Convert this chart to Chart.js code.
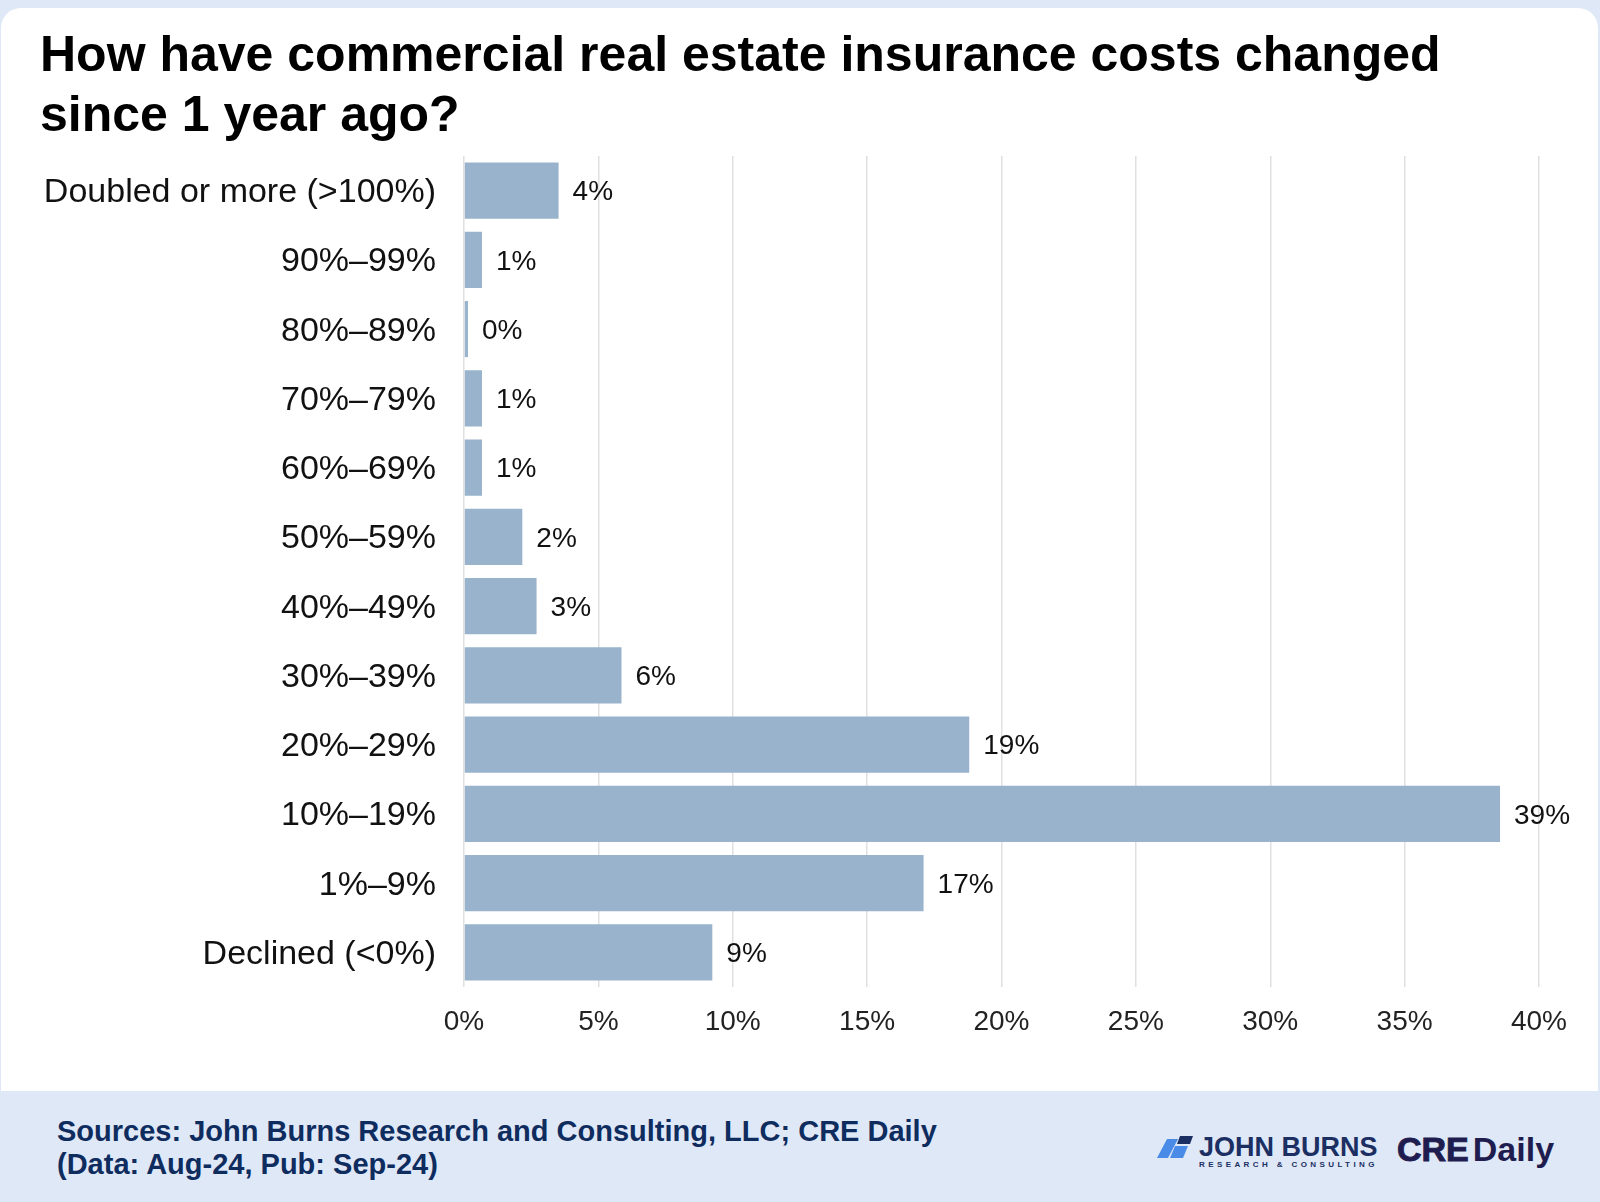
<!DOCTYPE html>
<html>
<head>
<meta charset="utf-8">
<script src="https://cdn.jsdelivr.net/npm/chart.js@4"></script>
<style>
  html, body { margin: 0; padding: 0; }
  body {
    width: 1600px; height: 1202px; position: relative; overflow: hidden;
    background: #dfe8f7;
    font-family: "Liberation Sans", Arial, sans-serif;
  }
  #card {
    position: absolute; left: 1px; top: 8px; width: 1597px; height: 1083px;
    background: #fff; border-radius: 20px 20px 0 0;
  }
  #title {
    position: absolute; left: 40px; top: 24px;
    font-size: 50px; line-height: 60px; font-weight: bold; color: #000;
  }
  #chart { position: absolute; left: 0; top: 140px; }
  #footer {
    position: absolute; left: 0; top: 1091px; width: 1600px; height: 110px;
    background: #dfe8f7;
  }
  #source {
    position: absolute; left: 57px; top: 24px;
    font-size: 29px; line-height: 33px; font-weight: bold; color: #0f2c5f;
  }
  #jb { position: absolute; left: 1155px; top: 44px; }
  #jbname {
    position: absolute; left: 1199px; top: 41px; white-space: nowrap;
    font-size: 27px; line-height: 30px; font-weight: bold; color: #1b2f63;
  }
  #jbsub {
    position: absolute; left: 1199px; top: 69px; white-space: nowrap;
    font-size: 8px; line-height: 10px; font-weight: bold; color: #1b2f63; letter-spacing: 3.4px;
  }
  #cre {
    position: absolute; left: 1397px; top: 39px; white-space: nowrap;
    font-size: 34px; line-height: 38px; color: #1f1d4f;
  }
  #cre b { font-weight: 900; -webkit-text-stroke: 1px #1f1d4f; }
  #cre span { font-weight: bold; margin-left: 4px; }
</style>
</head>
<body>
<div id="card"></div>
<div id="title">How have commercial real estate insurance costs changed<br>since 1 year ago?</div>
<canvas id="chart" width="1600" height="920"></canvas>
<div id="footer">
  <div id="source">Sources: John Burns Research and Consulting, LLC; CRE Daily<br>(Data: Aug-24, Pub: Sep-24)</div>
  <svg id="jb" width="40" height="24" viewBox="0 0 40 24">
    <polygon points="12,4 23,4 13,23 2,23" fill="#4a8be8"/>
    <polygon points="25,1 38,1 35,9 22,9" fill="#1b2f63"/>
    <polygon points="20,11 33,11 28,23 15,23" fill="#4a8be8"/>
  </svg>
  <div id="jbname">JOHN BURNS</div>
  <div id="jbsub">RESEARCH &amp; CONSULTING</div>
  <div id="cre"><b>CRE</b><span>Daily</span></div>
</div>
<script>
// survey answers, top to bottom
const categories = [
  "Doubled or more (>100%)", "90%–99%", "80%–89%", "70%–79%", "60%–69%",
  "50%–59%", "40%–49%", "30%–39%", "20%–29%", "10%–19%", "1%–9%", "Declined (<0%)"
];
// share of respondents, %
const shares = [3.52, 0.67, 0.15, 0.67, 0.67, 2.17, 2.7, 5.86, 18.8, 38.55, 17.1, 9.24];
const xTicksMax = 40;
const xTickStep = 5;

const fontFamily = '"Liberation Sans", Arial, sans-serif';

// value labels at the end of each bar
const barLabels = {
  id: "barLabels",
  afterDatasetsDraw(chart) {
    const ctx = chart.ctx;
    const meta = chart.getDatasetMeta(0);
    ctx.save();
    ctx.font = "28px " + fontFamily;
    ctx.fillStyle = "#111";
    ctx.textBaseline = "middle";
    ctx.textAlign = "left";
    meta.data.forEach((bar, i) => {
      ctx.fillText(Math.round(shares[i]) + "%", bar.x + 14, bar.y + 2);
    });
    ctx.restore();
  }
};

new Chart(document.getElementById("chart"), {
  type: "bar",
  data: {
    labels: categories,
    datasets: [
      {
        data: shares,
        backgroundColor: "#99b3cc",
        borderWidth: 0,
        barPercentage: 0.81,
        categoryPercentage: 1
      }
    ]
  },
  options: {
    indexAxis: "y",
    responsive: false,
    animation: false,
    devicePixelRatio: 1,
    layout: { padding: { top: 16, right: 61, bottom: 0, left: 0 } },
    plugins: { legend: { display: false }, tooltip: { enabled: false } },
    scales: {
      x: {
        min: 0,
        max: xTicksMax,
        border: { display: false },
        grid: { color: "#e0e0e0", lineWidth: 1.5, drawTicks: false },
        ticks: {
          stepSize: xTickStep,
          padding: 18,
          color: "#222",
          font: { size: 28, family: fontFamily },
          callback: (v) => v + "%"
        },
        afterFit: (scale) => {
          scale.height = 73;
          scale.paddingLeft = 0;
          scale.paddingRight = 0;
        }
      },
      y: {
        border: { display: false },
        grid: { display: false, drawTicks: false },
        ticks: {
          padding: 28,
          labelOffset: 2,
          color: "#111",
          font: { size: 34, family: fontFamily }
        },
        afterFit: (scale) => {
          scale.width = 464;
          scale.paddingTop = 0;
          scale.paddingBottom = 0;
        }
      }
    }
  },
  plugins: [barLabels]
});
</script>
</body>
</html>
